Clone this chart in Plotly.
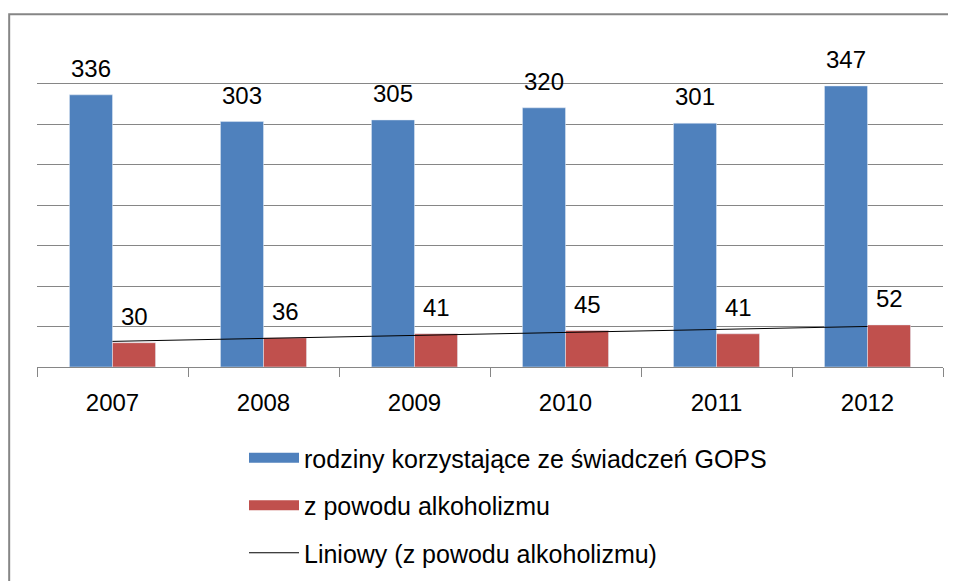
import numpy as np
import plotly.graph_objects as go

years = ["2007", "2008", "2009", "2010", "2011", "2012"]
families = [336, 303, 305, 320, 301, 347]
alcohol = [30, 36, 41, 45, 41, 52]
name_fam = "rodziny korzystające ze świadczeń GOPS"
name_alc = "z powodu alkoholizmu"
name_trend = "Liniowy (z powodu alkoholizmu)"

FONT = "Liberation Sans"
BLUE = "#4F81BD"
RED = "#C0504D"
GRID = "#868686"
BARGAP = 0.43
bar_w = (1 - BARGAP) / 2

# linear trend of alcohol series
idx = np.arange(len(years))
slope, intercept = np.polyfit(idx + 1, alcohol, 1)
trend = slope * (idx + 1) + intercept

fig = go.Figure()
fig.add_trace(go.Bar(x=years, y=families, name=name_fam, marker_color=BLUE,
                     showlegend=False, hoverinfo="skip"))
fig.add_trace(go.Bar(x=years, y=alcohol, name=name_alc, marker_color=RED,
                     showlegend=False, hoverinfo="skip"))
fig.add_trace(go.Scatter(x=years, y=trend, name=name_trend, mode="lines",
                         line=dict(color="black", width=1), legendgroup="c",
                         showlegend=False, hoverinfo="skip"))
# legend entries (wide rectangular keys like the original)
fig.add_trace(go.Scatter(x=[None], y=[None], mode="lines", name=name_fam,
                         line=dict(color=BLUE, width=13), legendgroup="a"))
fig.add_trace(go.Scatter(x=[None], y=[None], mode="lines", name=name_alc,
                         line=dict(color=RED, width=13), legendgroup="b"))
fig.add_trace(go.Scatter(x=[None], y=[None], mode="lines", name=name_trend,
                         line=dict(color="black", width=1), legendgroup="c"))

annotations = []
for i, (f, a) in enumerate(zip(families, alcohol)):
    annotations.append(dict(x=i - bar_w / 2, y=f, xref="x", yref="y", text=str(f),
                            showarrow=False, yanchor="bottom", yshift=11,
                            font=dict(family=FONT, size=24, color="black")))
    annotations.append(dict(x=i + bar_w / 2, y=a, xref="x", yref="y", text=str(a),
                            showarrow=False, yanchor="bottom", yshift=11,
                            font=dict(family=FONT, size=24, color="black")))

fig.update_layout(
    width=956, height=581,
    margin=dict(l=29, r=21, t=35, b=222, autoexpand=False),
    paper_bgcolor="white", plot_bgcolor="white",
    barmode="group", bargap=BARGAP, bargroupgap=0,
    font=dict(family=FONT, size=24, color="black"),
    annotations=annotations,
    showlegend=True,
    legend=dict(orientation="v", xref="container", yref="container",
                x=236 / 956, y=1 - 427 / 581, xanchor="left", yanchor="top",
                traceorder="grouped", tracegroupgap=12, itemwidth=50,
                font=dict(family=FONT, size=25, color="black"),
                bgcolor="rgba(0,0,0,0)"),
    shapes=[dict(type="rect", xref="paper", yref="paper",
                 x0=-0.0307, x1=1.2, y0=-1.0, y1=1.089,
                 line=dict(color=GRID, width=2), fillcolor="rgba(0,0,0,0)",
                 layer="above")],
)
fig.update_xaxes(type="category", showgrid=False, showline=True, linecolor=GRID,
                 linewidth=1, ticks="outside", tickson="boundaries", ticklen=9,
                 tickcolor=GRID, ticklabelstandoff=14,
                 tickfont=dict(family=FONT, size=24, color="black"),
                 fixedrange=True)
fig.update_yaxes(range=[0, 400], dtick=50, showgrid=True, gridcolor=GRID,
                 gridwidth=1, showticklabels=False, showline=False, zeroline=False,
                 ticks="", fixedrange=True)

fig.write_html("out.html")
